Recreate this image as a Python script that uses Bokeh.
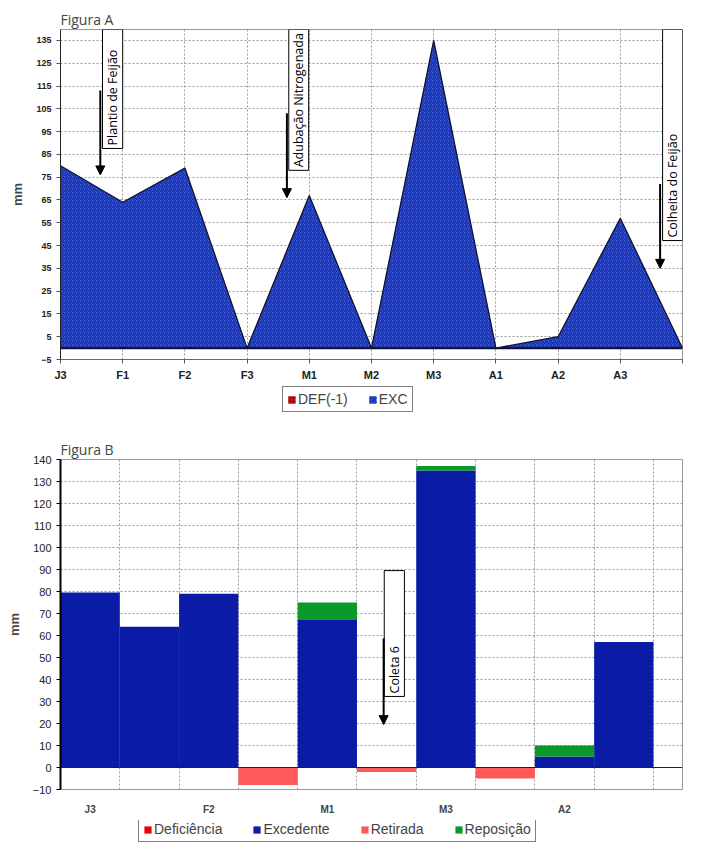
from math import pi
from bokeh.plotting import figure
from bokeh.models import (Range1d, FixedTicker, BoxAnnotation, Label, Arrow, NormalHead,
                          Legend, LegendItem, Span, Grid, ColumnDataSource)
from bokeh.layouts import column
from bokeh.embed import file_html
from bokeh.resources import INLINE

# ---------------- data ----------------
cats_a = ["J3", "F1", "F2", "F3", "M1", "M2", "M3", "A1", "A2", "A3", ""]
exc_a = [80, 64, 79, 0, 67, 0, 135, 0, 5, 57, 0]
def_a = [0, 0, 0, 0, 0, 0, 0, 0, 0, 0, 0]
yticks_a = [-5, 5, 15, 25, 35, 45, 55, 65, 75, 85, 95, 105, 115, 125, 135]

cats_b = ["J3", "F1", "F2", "F3", "M1", "M2", "M3", "A1", "A2", "A3", ""]
exc_b = [79.5, 64, 79, 0, 67, 0, 135, 0, 5, 57, 0]
rep_b = [0, 0, 0, 0, 8, 0, 2, 0, 5, 0, 0]
ret_b = [0, 0, 0, -8, 0, -2, 0, -5, 0, 0, 0]
def_b = [0, 0, 0, 0, 0, 0, 0, 0, 0, 0, 0]
yticks_b = [-10, 0, 10, 20, 30, 40, 50, 60, 70, 80, 90, 100, 110, 120, 130, 140]
labelled_b = [0, 2, 4, 6, 8]

GRID = "#9A9A9A"
AX_FONT = "Liberation Sans"
TXT_FONT = "Open Sans"
EXC_A = dict(fill_color="#3F5FDE", hatch_pattern="/", hatch_color="#1A32AE",
             hatch_scale=4, hatch_weight=1.5)
DEF_A = dict(fill_color="#E03030", hatch_pattern="/", hatch_color="#A00000",
             hatch_scale=4, hatch_weight=1.5)
B_COLORS = {"Deficiência": "#F00000", "Excedente": "#0A1CA6",
            "Retirada": "#FF5A5A", "Reposição": "#0A9A2C"}


def legend_fig(height):
    f = figure(width=693, height=height, x_range=Range1d(0, 1), y_range=Range1d(0, 1),
               x_axis_location=None, y_axis_location=None,
               output_backend="svg", toolbar_location=None, min_border=0)
    f.grid.visible = False
    f.outline_line_color = None
    return f


def style_legend(leg, spacing):
    leg.label_text_font = AX_FONT
    leg.label_text_font_size = "14px"
    leg.glyph_width = 9
    leg.glyph_height = 9
    leg.label_standoff = 2
    leg.spacing = spacing
    leg.padding = 4
    leg.margin = 0
    leg.border_line_color = "black"
    leg.label_height = 13
    leg.background_fill_alpha = 1


def note(p, left, right, bottom, top, text, ax, y0, y1):
    p.add_layout(BoxAnnotation(left=left, right=right, bottom=bottom, top=top,
                               fill_color="white", fill_alpha=1, line_color="black",
                               line_alpha=1, line_width=1))
    p.add_layout(Label(x=(left + right) / 2, y=bottom, text=text, angle=pi / 2,
                       x_offset=0, y_offset=3,
                       text_align="left", text_baseline="middle", text_font=TXT_FONT,
                       text_font_size="12.5px", text_color="black"))
    p.add_layout(Arrow(end=NormalHead(size=9, fill_color="black", line_color="black"),
                       x_start=ax, y_start=y0, x_end=ax, y_end=y1,
                       line_color="black", line_width=2))


def style_title(p, text):
    p.title.text = text
    p.title.align = "left"
    p.title.text_font = TXT_FONT
    p.title.text_font_size = "14px"
    p.title.text_font_style = "normal"
    p.title.offset = 0
    p.title.standoff = 2


# ---------------- Figure A ----------------
pa = figure(width=693, height=384, x_range=Range1d(0, 10), y_range=Range1d(-5, 139.8),
            output_backend="svg", toolbar_location=None,
            min_border_left=60, min_border_right=11, min_border_top=29, min_border_bottom=25)
xa = list(range(len(cats_a)))
src_a = ColumnDataSource(dict(x=xa, exc=exc_a, dfc=def_a))

pa.varea(x="x", y1=0, y2="dfc", source=src_a, **DEF_A)
pa.varea(x="x", y1=0, y2="exc", source=src_a, **EXC_A)
pa.line(x="x", y="exc", source=src_a, line_color="#10142E", line_width=1.3)
pa.add_layout(Span(location=0, dimension="width", line_color="#10142E", line_width=2.2))
style_title(pa, "Figura A")

pa.xaxis.ticker = FixedTicker(ticks=xa)
pa.xaxis.major_label_overrides = {i: c for i, c in enumerate(cats_a)}
pa.yaxis.ticker = FixedTicker(ticks=yticks_a)
for ax in (pa.xaxis, pa.yaxis):
    ax.major_label_text_font = AX_FONT
    ax.major_label_text_font_style = "bold"
    ax.major_label_text_color = "#222222"
    ax.axis_line_color = "#666666"
    ax.major_tick_line_color = "#555555"
    ax.minor_tick_line_color = None
    ax.major_tick_in = 0
    ax.major_tick_out = 4
pa.yaxis.axis_line_color = "#222222"
pa.xaxis.major_label_text_font_size = "11px"
pa.yaxis.major_label_text_font_size = "9px"
pa.yaxis.axis_label = "mm"
pa.yaxis.axis_label_text_font = AX_FONT
pa.yaxis.axis_label_text_font_style = "bold"
pa.yaxis.axis_label_text_font_size = "13px"
pa.yaxis.axis_label_standoff = 8
pa.xgrid.grid_line_color = GRID
pa.ygrid.grid_line_color = GRID
pa.xgrid.grid_line_dash = "2 2"
pa.ygrid.grid_line_dash = "2 2"
pa.outline_line_color = GRID

note(pa, 0.675, 1.0, 87.6, 139.8, "Plantio de Feijão", 0.64, 113, 76)
note(pa, 3.67, 3.99, 78, 139.8, "Adubação Nitrogenada", 3.64, 103, 66)
note(pa, 9.68, 10.0, 47.2, 139.8, "Colheita do Feijão", 9.64, 72, 35)

# legend A (own strip); zero-height placeholder glyphs carry the swatch styles
la = legend_fig(44)
ld = la.varea(x=[5, 6], y1=[-5, -5], y2=[-5, -5], **DEF_A)
le = la.varea(x=[5, 6], y1=[-5, -5], y2=[-5, -5], **EXC_A)
leg_a = Legend(items=[LegendItem(label="DEF(-1)", renderers=[ld]),
                      LegendItem(label="EXC", renderers=[le])],
               orientation="horizontal", location=(222, 16))
style_legend(leg_a, 20)
la.add_layout(leg_a)

# ---------------- Figure B ----------------
pb = figure(width=693, height=392, x_range=Range1d(-0.5, 9.99), y_range=Range1d(-10, 140),
            output_backend="svg", toolbar_location=None,
            min_border_left=60, min_border_right=0, min_border_top=31, min_border_bottom=31)
xb = list(range(len(cats_b)))
src_b = ColumnDataSource(dict(x=xb, exc=exc_b, rep=rep_b, ret=ret_b, dfc=def_b))

pb.vbar_stack(["exc", "rep"], x="x", width=1, source=src_b,
              fill_color=[B_COLORS["Excedente"], B_COLORS["Reposição"]], line_color=None)
pb.vbar_stack(["ret", "dfc"], x="x", width=1, source=src_b,
              fill_color=[B_COLORS["Retirada"], B_COLORS["Deficiência"]], line_color=None)
pb.add_layout(Span(location=0, dimension="width", line_color="#222222", line_width=1.2))
style_title(pb, "Figura B")

pb.xaxis.ticker = FixedTicker(ticks=labelled_b)
pb.xaxis.major_label_overrides = {i: cats_b[i] for i in labelled_b}
pb.xaxis.major_label_text_font = AX_FONT
pb.xaxis.major_label_text_font_style = "bold"
pb.xaxis.major_label_text_font_size = "10px"
pb.xaxis.axis_line_color = None
pb.xaxis.major_tick_line_color = None
pb.xaxis.minor_tick_line_color = None
pb.xaxis.major_label_standoff = 8
pb.yaxis.ticker = FixedTicker(ticks=yticks_b)
pb.yaxis.major_label_text_font = AX_FONT
pb.yaxis.major_label_text_font_size = "11px"
pb.yaxis.major_label_text_color = "#222222"
pb.yaxis.axis_line_color = "black"
pb.yaxis.axis_line_width = 2
pb.yaxis.major_tick_line_color = "black"
pb.yaxis.major_tick_in = 0
pb.yaxis.major_tick_out = 4
pb.yaxis.minor_tick_line_color = None
pb.yaxis.axis_label = "mm"
pb.yaxis.axis_label_text_font = AX_FONT
pb.yaxis.axis_label_text_font_style = "bold"
pb.yaxis.axis_label_text_font_size = "13px"
pb.yaxis.axis_label_standoff = 8

pb.xgrid.visible = False
pb.add_layout(Grid(dimension=0, ticker=FixedTicker(ticks=[i - 0.5 for i in range(len(cats_b) + 1)]),
                   grid_line_color=GRID, grid_line_dash="2 2"))
pb.ygrid.grid_line_color = GRID
pb.ygrid.grid_line_dash = "2 2"
pb.outline_line_color = GRID

note(pb, 4.96, 5.30, 32.3, 89.5, "Coleta 6", 4.95, 58.6, 19.5)

# legend B (own strip); zero-height placeholder bars carry the swatch colours
lb = legend_fig(23)
items_b = []
for name, col in B_COLORS.items():
    r = lb.vbar(x=[5], top=[-5], bottom=[-5], width=1, fill_color=col, line_color=None)
    items_b.append(LegendItem(label=name, renderers=[r]))
leg_b = Legend(items=items_b, orientation="horizontal", location=(78, 1))
style_legend(leg_b, 30)
lb.add_layout(leg_b)

layout = column(pa, la, pb, lb, spacing=0)
open("out.html", "w").write(file_html(layout, INLINE))
